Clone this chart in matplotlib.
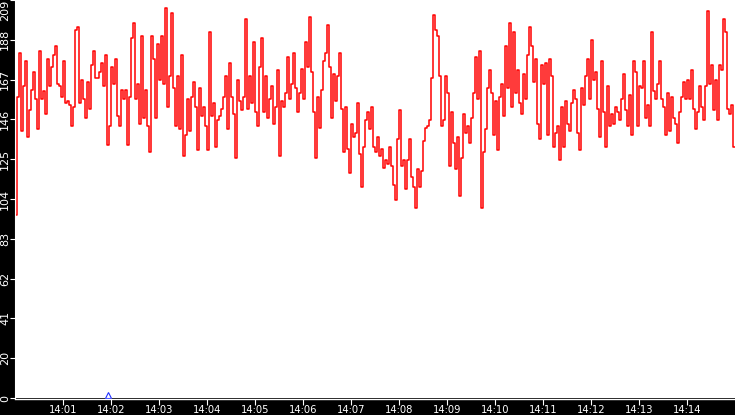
import numpy as np
import matplotlib
matplotlib.use("Agg")
import matplotlib.pyplot as plt
import matplotlib.dates as mdates

# one sample every 2.5 s, starting at 14:00:00
start_time = "2024-01-01T14:00:00"
sample_step_ms = 2500
values = [
    96, 158, 181, 140, 164, 177, 137, 151, 162, 171,
    157, 141, 182, 157, 161, 149, 178, 164, 174, 180,
    185, 165, 164, 158, 177, 155, 156, 154, 143, 153,
    193, 195, 155, 167, 157, 147, 166, 152, 175, 182,
    168, 168, 171, 176, 164, 180, 133, 143, 174, 165,
    178, 148, 143, 162, 157, 162, 133, 158, 189, 197,
    157, 165, 144, 190, 147, 162, 143, 129, 190, 178,
    147, 186,
    167, 190, 165, 205, 153, 169, 202, 163, 143, 169,
    141, 180, 127, 138, 157, 140, 158, 166, 153, 130,
    163, 148, 153, 143, 130, 192, 148, 155, 132, 146,
    148, 152, 158, 169, 141, 176, 158, 149, 126, 167,
    156, 151, 158, 199, 152, 169, 155, 187, 150, 143,
    174, 189, 150, 169, 147, 157, 164, 144, 153, 172,
    127, 156, 153, 160, 179, 157, 165, 181, 163, 150,
    160, 173,
    157, 187, 174, 200, 171, 150, 126, 158, 142, 162,
    177, 181, 196, 174, 147, 170, 156, 169, 181, 152,
    129, 153, 131, 118, 144, 137, 139, 155, 128, 111,
    132, 146, 150, 141, 153, 132, 129, 137, 127, 131,
    121, 125, 123, 132, 122, 112, 104, 136, 151, 122,
    125, 110, 125, 136, 116, 111, 100, 120, 111, 119,
    135, 142, 143, 146, 168, 201, 193, 190, 169, 143,
    146, 169,
    160, 122, 150, 134, 120, 137, 106, 126, 149, 139,
    143, 134, 147, 160, 179, 157, 182, 100, 129, 141,
    163, 172, 160, 138, 156, 130, 158, 165, 148, 185,
    163, 197, 153, 192, 160, 172, 155, 149, 170, 157,
    180, 195, 185, 166, 178, 144, 136, 175, 165, 176,
    138, 178, 169, 132, 139, 143, 125, 153, 132, 156,
    144, 140, 155, 162, 157, 139, 130, 163, 154, 169,
    178, 157,
    188, 167, 171, 152, 137, 177, 150, 132, 164, 143,
    149, 144, 153, 150, 146, 157, 170, 151, 143, 159,
    138, 177, 171, 143, 164, 163, 177, 147, 154, 143,
    192, 161, 157, 165, 177, 157, 153, 138, 160, 140,
    158, 147, 144, 134, 150, 158, 166, 157, 167, 157,
    172, 152, 141, 150, 164, 153, 146, 164, 203, 165,
    175, 151, 167, 146, 175, 172, 199, 192, 152, 149,
    154, 132,
]
event_times = ["2024-01-01T14:01:56"]
event_values = [1.5]

y_max = 209
y_ticks = [i * y_max / 10 for i in range(11)]
y_tick_labels = [str(int(t)) for t in y_ticks]
x_start = np.datetime64("2024-01-01T14:00:00")
x_end = np.datetime64("2024-01-01T14:15:00")

times = np.datetime64(start_time) + np.arange(len(values)) * np.timedelta64(sample_step_ms, "ms")
times = np.append(times, x_end)
series = np.append(values, values[-1])

fig = plt.figure(figsize=(7.35, 4.15), dpi=100, facecolor="black")
ax = fig.add_axes([15 / 735, 17 / 415, 720 / 735, 398 / 415])
ax.set_facecolor("white")

ax.plot(times, series, drawstyle="steps-post", color="#ff0000", linewidth=1.1)
ax.plot(np.array(event_times, dtype="datetime64[s]"), event_values, linestyle="none",
        marker="^", markersize=4, markerfacecolor="none", markeredgecolor="#2030ff",
        markeredgewidth=0.8, clip_on=False)

ax.set_xlim(x_start, x_end)
ax.set_ylim(0, y_max)

ax.xaxis.set_major_locator(mdates.MinuteLocator(byminute=range(1, 15)))
ax.xaxis.set_major_formatter(mdates.DateFormatter("%H:%M"))
ax.set_yticks(y_ticks)
ax.set_yticklabels(y_tick_labels)

for side in ("top", "right"):
    ax.spines[side].set_visible(False)
ax.spines["left"].set_color("white")
ax.spines["bottom"].set_color("white")
ax.spines["bottom"].set_linewidth(1.0)
ax.spines["bottom"].set_position(("outward", 0.7))

ax.tick_params(axis="x", colors="white", length=4.3, width=0.8, pad=0.3, labelsize=7.2)
ax.tick_params(axis="y", colors="white", length=3.6, width=0.8, pad=3.4, labelsize=8, labelrotation=90)
y_labels = ax.get_yticklabels()
for label in y_labels:
    label.set_va("center")
    label.set_ha("center")
# the top label sits below its tick so it stays inside the figure
y_labels[-1].set_va("top")

fig.savefig("out.png", dpi=100, facecolor="black")
